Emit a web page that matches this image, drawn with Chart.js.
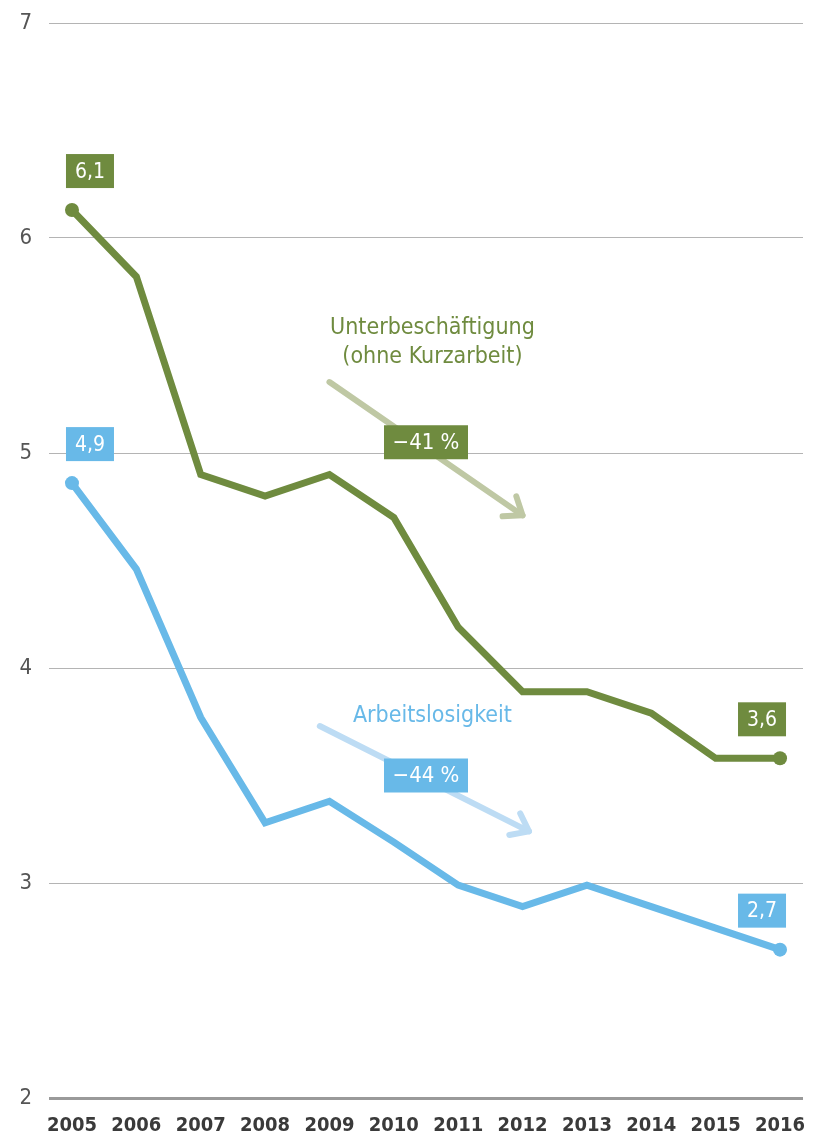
<!DOCTYPE html>
<html>
<head>
<meta charset="utf-8">
<script src="https://cdn.jsdelivr.net/npm/chart.js@4/dist/chart.umd.min.js"></script>
<style>
  html, body { margin: 0; padding: 0; background: #fff; }
  #wrap { width: 819px; height: 1138px; }
</style>
</head>
<body>
<div id="wrap"><canvas id="chart"></canvas></div>
<script>
// Data
const years = [2005, 2006, 2007, 2008, 2009, 2010, 2011, 2012, 2013, 2014, 2015, 2016];
const unterbeschaeftigung = [6.13, 5.82, 4.90, 4.80, 4.90, 4.70, 4.19, 3.89, 3.89, 3.79, 3.58, 3.58];
const arbeitslosigkeit = [4.86, 4.46, 3.77, 3.28, 3.38, 3.19, 2.99, 2.89, 2.99, 2.89, 2.79, 2.69];
const yTicks = [2, 3, 4, 5, 6, 7];
const endLabels = { green: ["6,1", "3,6"], blue: ["4,9", "2,7"] };

const GREEN = "#6f8b3f";
const BLUE = "#68b9e8";
const FONT = "'DejaVu Sans Condensed', 'Roboto', sans-serif";

// annotation trend arrows in data units
const arrows = [
  { from: [2009.0, 5.33], to: [2012.0, 4.71], color: "#bfc8a4", box: GREEN, text: "\u221241 %",
    boxAt: [2010.5, 5.05], title: ["Unterbesch\u00e4ftigung", "(ohne Kurzarbeit)"], titleAt: [2010.6, 5.58], titleColor: GREEN },
  { from: [2008.85, 3.73], to: [2012.1, 3.24], color: "#bddcf4", box: BLUE, text: "\u221244 %",
    boxAt: [2010.5, 3.50], title: ["Arbeitslosigkeit"], titleAt: [2010.6, 3.775], titleColor: BLUE }
];

const overlay = {
  id: "overlay",
  afterDatasetsDraw(chart) {
    const ctx = chart.ctx;
    const xs = chart.scales.x, ys = chart.scales.y;
    ctx.save();
    // arrows
    arrows.forEach(a => {
      const x1 = xs.getPixelForValue(a.from[0]), y1 = ys.getPixelForValue(a.from[1]);
      const x2 = xs.getPixelForValue(a.to[0]), y2 = ys.getPixelForValue(a.to[1]);
      ctx.strokeStyle = a.color;
      ctx.lineWidth = 6;
      ctx.lineCap = "round";
      ctx.lineJoin = "round";
      ctx.beginPath();
      ctx.moveTo(x1, y1);
      ctx.lineTo(x2, y2);
      ctx.stroke();
      const ang = Math.atan2(y2 - y1, x2 - x1);
      const len = 20;
      ctx.beginPath();
      ctx.moveTo(x2 - len * Math.cos(ang - 0.65), y2 - len * Math.sin(ang - 0.65));
      ctx.lineTo(x2, y2);
      ctx.lineTo(x2 - len * Math.cos(ang + 0.65), y2 - len * Math.sin(ang + 0.65));
      ctx.stroke();

      // titles
      ctx.fillStyle = a.titleColor;
      ctx.font = "23px " + FONT;
      ctx.textAlign = "center";
      ctx.textBaseline = "middle";
      const tx = xs.getPixelForValue(a.titleAt[0]), ty = ys.getPixelForValue(a.titleAt[1]);
      a.title.forEach((t, i) => ctx.fillText(t, tx, ty + i * 29));

      // percentage box
      const bx = xs.getPixelForValue(a.boxAt[0]), by = ys.getPixelForValue(a.boxAt[1]);
      ctx.fillStyle = a.box;
      ctx.fillRect(bx - 42, by - 17, 84, 34);
      ctx.fillStyle = "#fff";
      ctx.font = "22px " + FONT;
      ctx.fillText(a.text, bx, by + 1);
    });

    // end value boxes
    const drawBox = (label, idx, values, color, dx) => {
      const px = xs.getPixelForValue(years[idx]);
      const py = ys.getPixelForValue(values[idx]);
      const cx = px + dx, cy = py - 39;
      ctx.fillStyle = color;
      ctx.fillRect(cx - 24, cy - 17, 48, 34);
      ctx.fillStyle = "#fff";
      ctx.font = "21px " + FONT;
      ctx.textAlign = "center";
      ctx.textBaseline = "middle";
      ctx.fillText(label, cx, cy + 1);
    };
    const last = years.length - 1;
    drawBox(endLabels.green[0], 0, unterbeschaeftigung, GREEN, 18);
    drawBox(endLabels.green[1], last, unterbeschaeftigung, GREEN, -18);
    drawBox(endLabels.blue[0], 0, arbeitslosigkeit, BLUE, 18);
    drawBox(endLabels.blue[1], last, arbeitslosigkeit, BLUE, -18);
    ctx.restore();
  }
};

const endPoints = arr => arr.map((v, i) => (i === 0 || i === arr.length - 1) ? 7 : 0);

new Chart(document.getElementById("chart").getContext("2d"), {
  type: "line",
  data: {
    datasets: [
      {
        label: "Unterbesch\u00e4ftigung",
        data: years.map((y, i) => ({ x: y, y: unterbeschaeftigung[i] })),
        borderColor: GREEN,
        backgroundColor: GREEN,
        borderWidth: 7,
        pointRadius: endPoints(years),
        pointBorderWidth: 0,
        tension: 0,
        borderJoinStyle: "miter"
      },
      {
        label: "Arbeitslosigkeit",
        data: years.map((y, i) => ({ x: y, y: arbeitslosigkeit[i] })),
        borderColor: BLUE,
        backgroundColor: BLUE,
        borderWidth: 7,
        pointRadius: endPoints(years),
        pointBorderWidth: 0,
        tension: 0,
        borderJoinStyle: "miter"
      }
    ]
  },
  options: {
    responsive: true,
    maintainAspectRatio: false,
    animation: false,
    layout: { padding: { top: 23, right: 16, left: 0, bottom: 0 } },
    plugins: { legend: { display: false }, tooltip: { enabled: false } },
    scales: {
      x: {
        type: "linear",
        min: 2004.643,
        max: 2016.357,
        afterBuildTicks: s => { s.ticks = years.map(v => ({ value: v })); },
        afterFit: s => { s.height = 40; },
        grid: { display: false },
        border: { display: false },
        ticks: {
          padding: 8,
          color: "#3a3a3a",
          font: { family: FONT, size: 20, weight: "bold" },
          callback: v => String(v)
        }
      },
      y: {
        min: 2,
        max: 7,
        afterBuildTicks: s => { s.ticks = yTicks.map(v => ({ value: v })); },
        afterFit: s => { s.width = 49; s.paddingTop = 0; s.paddingBottom = 0; },
        border: { display: false },
        grid: {
          drawTicks: false,
          color: ctx => ctx.tick && ctx.tick.value === 2 ? "#9a9a9a" : "#b4b4b4",
          lineWidth: ctx => ctx.tick && ctx.tick.value === 2 ? 3 : 1
        },
        ticks: {
          padding: 17,
          color: "#555",
          font: { family: FONT, size: 22 }
        }
      }
    }
  },
  plugins: [overlay]
});
</script>
</body>
</html>
